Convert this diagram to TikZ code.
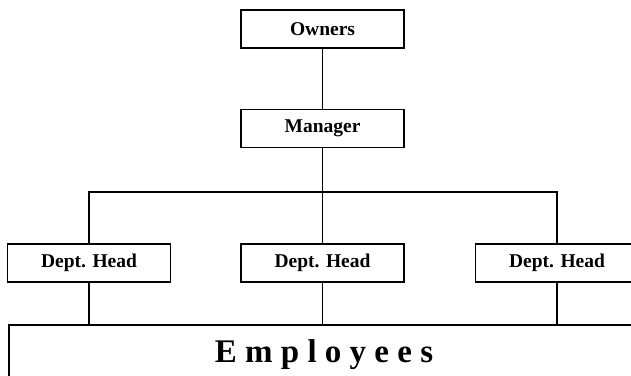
\documentclass[tikz,border=0pt]{standalone}
\usepackage{fontspec}
\setmainfont{Liberation Serif}
\usepackage{tikz}
\usetikzlibrary{positioning}

\begin{document}
\begin{tikzpicture}[x=1pt,y=1pt,line width=1.5pt,
  post/.style={draw,minimum width=163pt,minimum height=38pt,inner sep=0pt,
    font=\fontsize{19.5}{22}\selectfont\bfseries}]
\useasboundingbox (0,0) rectangle (631,375);
\clip (0,0) rectangle (631,375);
\node[post] (owners) at (322.5,346) {Owners};
\node[post] (manager) at (322.5,246.5) {Manager};
\coordinate (bus) at (322.5,183);
\node[post] (heada) at (89,112) {Dept. Head};
\node[post] (headb) at (322.5,112) {Dept. Head};
\node[post] (headc) at (557,112) {Dept. Head};
\node[draw,minimum width=630pt,minimum height=60pt,inner sep=0pt,
  font=\fontsize{33}{36}\selectfont\bfseries] (staff) at (324,20) {E m p l o y e e s};
\draw (owners) -- (manager);
\draw (manager) -- (bus);
\draw (heada.north) |- (bus) -| (headc.north);
\draw (bus) -- (headb);
\draw (heada) -- (heada |- staff.north);
\draw (headb) -- (headb |- staff.north);
\draw (headc) -- (headc |- staff.north);
\end{tikzpicture}
\end{document}
